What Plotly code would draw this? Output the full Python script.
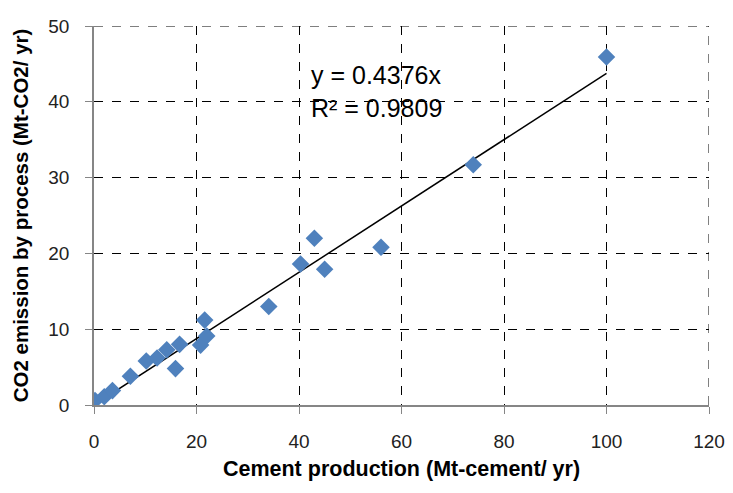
import plotly.graph_objects as go

cement = [0.2, 2.0, 3.6, 7.1, 10.2, 12.3, 14.2, 16.7, 15.9, 20.8, 21.6, 22.0, 34.1, 40.3, 43.0, 45.0, 56.0, 74.0, 100.0]
co2 = [0.6, 1.1, 1.9, 3.8, 5.8, 6.2, 7.3, 8.0, 4.8, 7.9, 11.2, 9.1, 13.0, 18.6, 22.0, 17.9, 20.8, 31.7, 45.9]
slope = 0.4376
r2 = 0.9809
trend_x = [0, 100]
trend_y = [slope * v for v in trend_x]

x_ticks = [0, 20, 40, 60, 80, 100, 120]
y_ticks = [0, 10, 20, 30, 40, 50]

FONT = "Liberation Sans, Arial"

fig = go.Figure()
fig.add_trace(go.Scatter(x=trend_x, y=trend_y, mode="lines",
                         line=dict(color="black", width=1.5), showlegend=False, hoverinfo="skip"))
fig.add_trace(go.Scatter(x=cement, y=co2, mode="markers",
                         marker=dict(symbol="diamond", size=13.5, color="#4F81BD"),
                         showlegend=False))

fig.add_annotation(x=0.35, y=0.827, xref="paper", yref="paper", xanchor="left", yanchor="middle",
                   text=f"y = {slope}x<br>R\u00b2 = {r2}", showarrow=False, align="left",
                   font=dict(family=FONT, size=25, color="black"))

# dashed border gridlines at the far ends of both axes
fig.add_shape(type="line", x0=x_ticks[0], x1=x_ticks[-1], y0=y_ticks[-1], y1=y_ticks[-1],
              line=dict(color="black", width=1, dash="dash"))
fig.add_shape(type="line", x0=x_ticks[-1], x1=x_ticks[-1], y0=y_ticks[0], y1=y_ticks[-1],
              line=dict(color="black", width=1, dash="dash"))

axis_common = dict(showgrid=True, gridcolor="black", griddash="dash", gridwidth=1,
                   showline=True, linecolor="#868686", linewidth=1.5,
                   ticks="outside", ticklen=7, tickcolor="#868686", zeroline=False,
                   ticklabeloverflow="allow",
                   tickfont=dict(family=FONT, size=19, color="#222"))

fig.update_xaxes(range=[0, 120], tickvals=x_ticks, ticklabelstandoff=11, **axis_common,
                 title=dict(text="<b>Cement production (Mt-cement/ yr)</b>",
                            font=dict(family=FONT, size=21.5, color="black"), standoff=10))
fig.update_yaxes(range=[0, 50], tickvals=y_ticks, ticklabelstandoff=12, **axis_common,
                 title=dict(text="<b>CO2 emission by process (Mt-CO2/ yr)</b>",
                            font=dict(family=FONT, size=20.5, color="black"), standoff=14))

fig.update_layout(width=725, height=485, plot_bgcolor="white", paper_bgcolor="white",
                  margin=dict(l=86, r=24, t=8, b=88))
fig.write_html("out.html")
